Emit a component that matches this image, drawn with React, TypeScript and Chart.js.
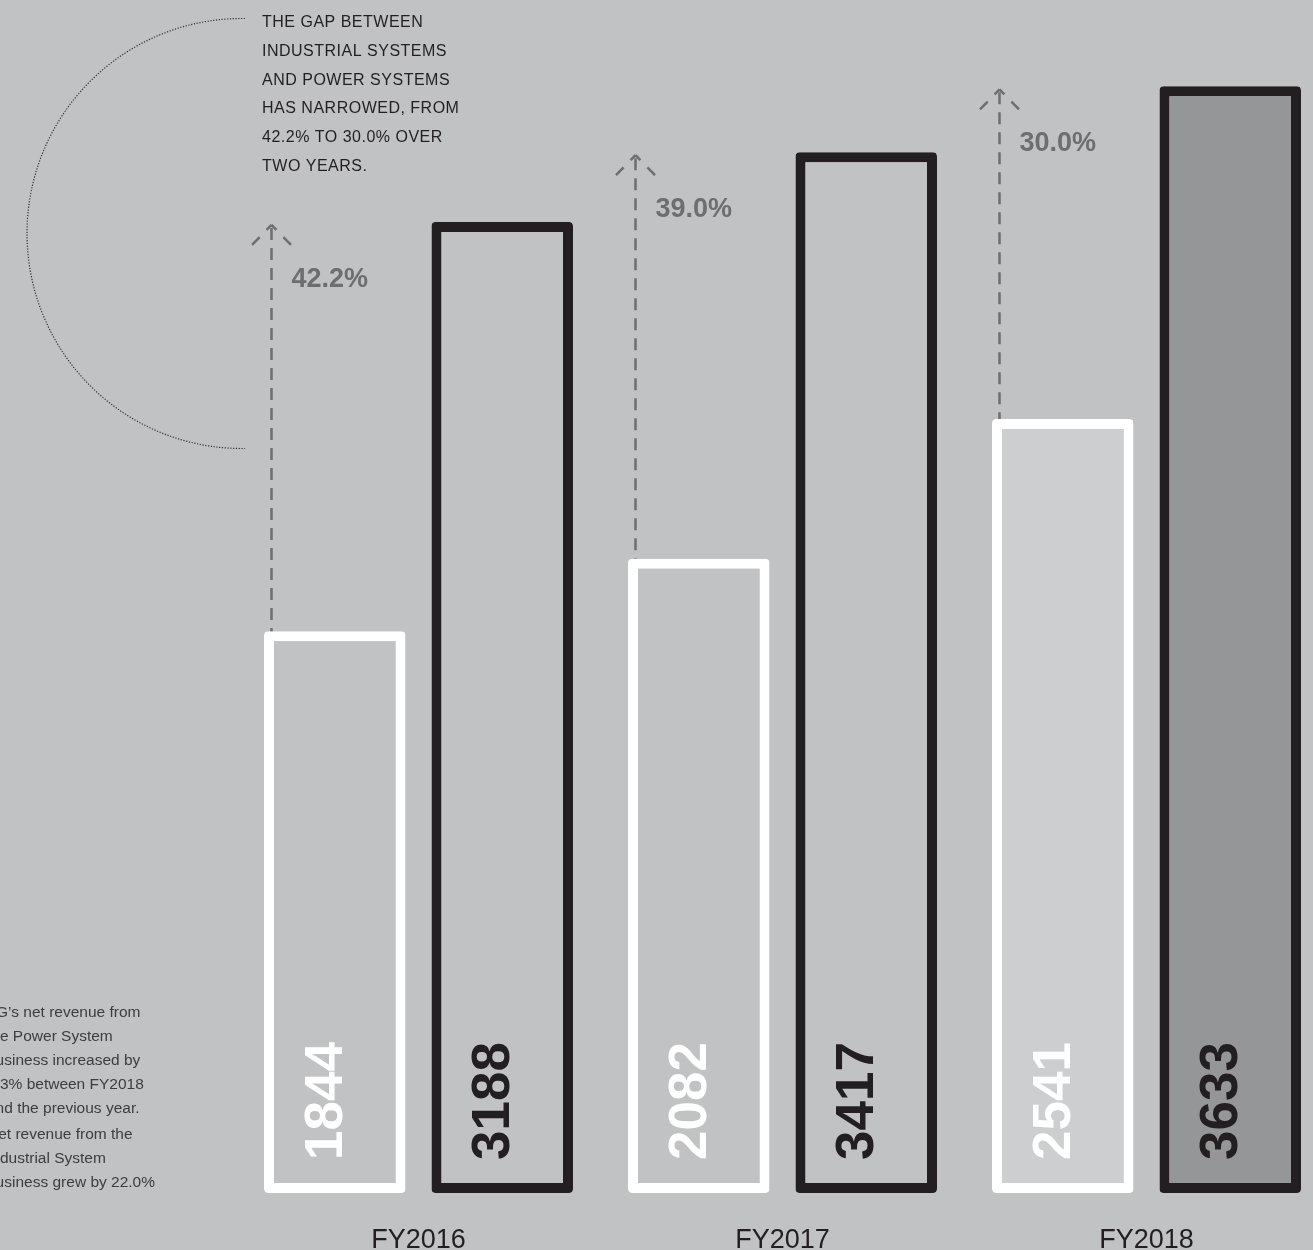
import React, { useEffect, useRef } from "react";
import { Chart, registerables } from "chart.js";

Chart.register(...registerables);

const categories = ["FY2016", "FY2017", "FY2018"];
const industrialValues = [1844, 2082, 2541];
const powerValues = [3188, 3417, 3633];
const gapLabels = ["42.2%", "39.0%", "30.0%"];
const yMax = 3900;

const noteLines = [
  "THE GAP BETWEEN",
  "INDUSTRIAL SYSTEMS",
  "AND POWER SYSTEMS",
  "HAS NARROWED, FROM",
  "42.2% TO 30.0% OVER",
  "TWO YEARS.",
];

const sideLines = [
  "G\u2019s net revenue from",
  "the Power System",
  "business increased by",
  "6.3% between FY2018",
  "and the previous year.",
  "Net revenue from the",
  "Industrial System",
  "business grew by 22.0%",
];

const BG = "#c1c2c4";
const INK = "#231f20";
const GREY_TEXT = "#6d6e70";

const overlayPlugin = {
  id: "overlay",
  beforeDraw(chart: any) {
    const ctx = chart.ctx;
    ctx.save();
    ctx.fillStyle = BG;
    ctx.fillRect(0, 0, chart.width, chart.height);
    ctx.restore();
  },
  afterDatasetsDraw(chart: any) {
    const ctx = chart.ctx;
    const metaI = chart.getDatasetMeta(0);
    const metaP = chart.getDatasetMeta(1);
    const xScale = chart.scales.x;
    ctx.save();

    // dashed arrows & gap labels
    metaI.data.forEach((bi: any, i: number) => {
      const bp = metaP.data[i];
      const x = bi.x - bi.width / 2 + 7.5;
      const tip = bp.y + 3;
      ctx.strokeStyle = GREY_TEXT;
      ctx.lineWidth = 2.5;
      ctx.lineCap = "butt";
      ctx.setLineDash([12, 8]);
      ctx.beginPath();
      ctx.moveTo(x, tip + 3);
      ctx.lineTo(x, bi.y);
      ctx.stroke();
      ctx.setLineDash([7, 10, 11, 100]);
      ctx.beginPath();
      ctx.moveTo(x, tip);
      ctx.lineTo(x - 19.5, tip + 20);
      ctx.stroke();
      ctx.beginPath();
      ctx.moveTo(x, tip);
      ctx.lineTo(x + 19.5, tip + 20);
      ctx.stroke();
      ctx.setLineDash([]);
      ctx.fillStyle = GREY_TEXT;
      ctx.font = "bold 27px 'Liberation Sans', Arial, sans-serif";
      ctx.textAlign = "left";
      ctx.textBaseline = "alphabetic";
      ctx.fillText(gapLabels[i], x + 20, tip + 62);
    });

    // vertical value labels
    const drawVal = (bar: any, val: number, color: string) => {
      ctx.save();
      ctx.translate(bar.x + 7, 1160);
      ctx.rotate(-Math.PI / 2);
      ctx.fillStyle = color;
      ctx.font = "bold 53px 'Liberation Sans', Arial, sans-serif";
      ctx.textAlign = "left";
      ctx.textBaseline = "alphabetic";
      ctx.fillText(String(val), 0, 0);
      ctx.restore();
    };
    metaI.data.forEach((b: any, i: number) => drawVal(b, industrialValues[i], "#ffffff"));
    metaP.data.forEach((b: any, i: number) => drawVal(b, powerValues[i], INK));

    // category labels
    ctx.fillStyle = INK;
    ctx.font = "27px 'Liberation Sans', Arial, sans-serif";
    ctx.textAlign = "center";
    categories.forEach((c, i) => {
      ctx.fillText(c, xScale.getPixelForValue(i), 1248);
    });

    // top note
    ctx.fillStyle = INK;
    ctx.font = "16px 'Liberation Sans', Arial, sans-serif";
    ctx.textAlign = "left";
    (ctx as any).letterSpacing = "0.5px";
    noteLines.forEach((l, i) => ctx.fillText(l, 262, 27 + 28.8 * i));
    (ctx as any).letterSpacing = "0px";

    // side note
    ctx.fillStyle = "#3d3d3f";
    ctx.font = "15.5px 'Liberation Sans', Arial, sans-serif";
    sideLines.forEach((l, i) => {
      const y = 1017 + 24 * i + (i >= 5 ? 2 : 0);
      ctx.fillText(l, i === 0 ? -4 : -13, y);
    });

    // dotted arc
    ctx.strokeStyle = "#2e2e30";
    ctx.lineWidth = 1.2;
    ctx.setLineDash([1.2, 1.6]);
    ctx.beginPath();
    ctx.moveTo(245, 18.5);
    ctx.lineTo(242, 18.5);
    ctx.arc(242, 233.5, 215, -Math.PI / 2, Math.PI / 2, true);
    ctx.lineTo(245, 448.5);
    ctx.stroke();
    ctx.setLineDash([]);

    ctx.restore();
  },
};

export default function App() {
  const ref = useRef<HTMLCanvasElement | null>(null);
  useEffect(() => {
    if (!ref.current) return;
    const chart = new Chart(ref.current, {
      type: "bar",
      data: {
        labels: categories,
        datasets: [
          {
            label: "Industrial Systems",
            data: industrialValues,
            backgroundColor: [BG, BG, "#cdced0"],
            borderColor: "#ffffff",
            borderWidth: 10,
            borderSkipped: false,
            borderRadius: 4,
            categoryPercentage: 0.9203,
            barPercentage: 0.8448,
          },
          {
            label: "Power Systems",
            data: powerValues,
            backgroundColor: [BG, BG, "#959698"],
            borderColor: INK,
            borderWidth: 10,
            borderSkipped: false,
            borderRadius: 4,
            categoryPercentage: 0.9203,
            barPercentage: 0.8448,
          },
        ],
      },
      options: {
        responsive: false,
        animation: false,
        layout: { padding: { left: 236.5, right: 11.5, top: 5, bottom: 57 } },
        plugins: { legend: { display: false }, tooltip: { enabled: false } },
        scales: {
          x: { display: false },
          y: { display: false, min: 0, max: yMax },
        },
      },
      plugins: [overlayPlugin],
    });
    return () => chart.destroy();
  }, []);
  return (
    <div
      style={{
        position: "absolute",
        left: 0,
        top: 0,
        width: 1313,
        height: 1250,
        overflow: "hidden",
        background: BG,
      }}
    >
      <canvas ref={ref} width={1340} height={1250} style={{ width: 1340, height: 1250, display: "block" }} />
    </div>
  );
}
